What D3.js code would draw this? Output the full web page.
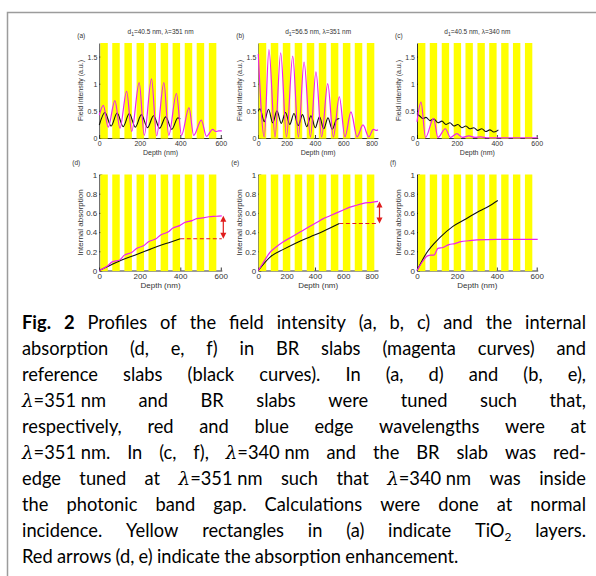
<!DOCTYPE html>
<html><head><meta charset="utf-8">
<script src="https://cdn.jsdelivr.net/npm/d3@7"></script>
<style>body{margin:0;background:#fff}svg{display:block}</style>
</head><body><svg id="c" width="596" height="576"></svg>
<script>
// ---------------- data ----------------
const xTicksShort = [0, 200, 400, 600];
const xTicksLong = [0, 200, 400, 600, 800];
const yTicksField = [0, 0.5, 1, 1.5];
const yTicksAbs = [0, 0.2, 0.4, 0.6, 0.8, 1];

// TiO2 layer start depths (nm) and widths
const layersThin = [5, 64, 124, 184, 243, 303, 362, 422, 481, 541];
const layerWidthThin = 37;
const layersThick = [3, 88, 173, 257, 342, 427, 512, 597, 681, 766];
const layerWidthThick = 53;

// field intensity (a): [depth nm, value]
const fieldA_BR = [[0,0.42],[20,0.6],[44,0.2],[77,0.69],[102,0.18],[135,0.86],[160,0.12],[197,1.02],[222,0.05],[258,1.09],[283,0.04],[319,1.02],[343,0.05],[381,0.82],[406,0.05],[443,0.56],[466,0.05],[504,0.33],[529,0.03],[560,0.16],[575,0.12],[590,0.13],[605,0.13]];
const fieldA_ref = [[0,0.24],[28,0.47],[58,0.22],[88,0.46],[118,0.21],[148,0.45],[178,0.2],[208,0.43],[238,0.19],[268,0.41],[298,0.18],[328,0.39],[358,0.16],[388,0.37],[400,0.35]];
// field intensity (b)
const fieldB_BR = [[0,1.55],[42,0.02],[75,1.63],[118,0.02],[158,1.57],[199,0.02],[243,1.51],[283,0.02],[323,1.4],[368,0.02],[407,1.22],[447,0.02],[490,1.0],[530,0.02],[572,0.76],[612,0.02],[654,0.48],[697,0.02],[739,0.24],[780,0.02],[812,0.16],[830,0.14],[845,0.15]];
const fieldB_ref = [[0,0.5],[12,0.54],[42,0.3],[72,0.53],[102,0.28],[132,0.5],[162,0.27],[192,0.47],[222,0.25],[252,0.45],[282,0.23],[312,0.43],[342,0.21],[372,0.41],[402,0.19],[432,0.39],[462,0.17],[492,0.37],[522,0.16],[552,0.34],[572,0.36]];
// field intensity (c)
const fieldC_BR = [[0,0.3],[20,0.66],[43,0.01],[83,0.36],[105,0.01],[142,0.17],[168,0.01],[200,0.08],[228,0.01],[260,0.04],[290,0.01],[320,0.02],[350,0.005],[605,0.005]];
const fieldC_ref = [[0,0.45],[15,0.4],[30,0.36],[45,0.38],[65,0.32],[85,0.35],[105,0.28],[125,0.31],[145,0.25],[165,0.28],[185,0.22],[205,0.25],[225,0.19],[245,0.22],[265,0.17],[285,0.19],[305,0.14],[325,0.17],[345,0.12],[365,0.15],[385,0.11],[400,0.13],[408,0.15]];
// internal absorption (d)
const absD_BR = [[0,0],[42,0.05],[64,0.09],[101,0.11],[124,0.16],[161,0.19],[184,0.23],[220,0.26],[243,0.3],[280,0.33],[303,0.37],[339,0.4],[362,0.44],[399,0.47],[422,0.5],[458,0.52],[481,0.54],[518,0.55],[541,0.56],[578,0.565],[605,0.57]];
const absD_ref = [[0,0],[50,0.05],[100,0.1],[150,0.14],[200,0.18],[250,0.22],[300,0.26],[350,0.295],[400,0.33]];
// internal absorption (e)
const absE_BR = [[0,0],[30,0.07],[83,0.19],[130,0.25],[177,0.3],[224,0.34],[271,0.38],[318,0.42],[365,0.46],[412,0.5],[459,0.54],[506,0.57],[553,0.6],[600,0.63],[647,0.66],[694,0.68],[741,0.7],[800,0.71],[845,0.72]];
const absE_ref = [[0,0],[83,0.14],[177,0.22],[271,0.29],[365,0.35],[459,0.41],[572,0.49]];
// internal absorption (f)
const absF_BR = [[0,0],[30,0.1],[50,0.15],[70,0.16],[85,0.16],[105,0.23],[130,0.24],[160,0.27],[190,0.28],[220,0.3],[260,0.31],[300,0.32],[400,0.325],[605,0.325]];
const absF_ref = [[0,0],[47,0.18],[113,0.34],[180,0.46],[247,0.54],[313,0.62],[360,0.67],[405,0.73]];

const titles = [["40.5","351"],["56.5","351"],["40.5","340"]];
const panelLabels = ["(a)","(b)","(c)","(d)","(e)","(f)"];

const captionLines = [
 "Fig. 2 Profiles of the field intensity (a, b, c) and the internal",
 "absorption (d, e, f) in BR slabs (magenta curves) and",
 "reference slabs (black curves). In (a, d) and (b, e),",
 "λ=351\u00a0nm and BR slabs were tuned such that,",
 "respectively, red and blue edge wavelengths were at",
 "λ=351\u00a0nm. In (c, f), λ=340\u00a0nm and the BR slab was red-",
 "edge tuned at λ=351\u00a0nm such that λ=340\u00a0nm was inside",
 "the photonic band gap. Calculations were done at normal",
 "incidence. Yellow rectangles in (a) indicate TiO2 layers.",
 "Red arrows (d, e) indicate the absorption enhancement."
];

// ---------------- drawing ----------------
const svg = d3.select('#c');
svg.append('rect').attr('width',596).attr('height',576).attr('fill','#fff');
svg.append('path').attr('d','M7.5,576V12.5H596').attr('fill','none').attr('stroke','#9c9c9c').attr('stroke-width',1.5);

const MAG = '#ee22ee', BLK = '#111', YEL = '#ffff00', RED = '#e01c1c';
const FONT = '"Liberation Sans", Arial, sans-serif';

const cols = [{x0:99.3,x1:221.8},{x0:258.3,x1:378},{x0:417,x1:537.7}];
const rows = [{y0:138,y1:43,fs:7,lfs:7},{y0:270.5,y1:174.5,fs:8,lfs:8}];

const panels = [
 {c:0,r:0,xMax:605,yMax:1.75,xt:xTicksShort,yt:yTicksField,layers:layersThin,lw:layerWidthThin,br:fieldA_BR,ref:fieldA_ref},
 {c:1,r:0,xMax:845,yMax:1.75,xt:xTicksLong,yt:yTicksField,layers:layersThick,lw:layerWidthThick,br:fieldB_BR,ref:fieldB_ref},
 {c:2,r:0,xMax:605,yMax:1.75,xt:xTicksShort,yt:yTicksField,layers:layersThin,lw:layerWidthThin,br:fieldC_BR,ref:fieldC_ref},
 {c:0,r:1,xMax:605,yMax:1,xt:xTicksShort,yt:yTicksAbs,layers:layersThin,lw:layerWidthThin,br:absD_BR,ref:absD_ref,arrow:true},
 {c:1,r:1,xMax:845,yMax:1,xt:xTicksLong,yt:yTicksAbs,layers:layersThick,lw:layerWidthThick,br:absE_BR,ref:absE_ref,arrow:true},
 {c:2,r:1,xMax:605,yMax:1,xt:xTicksShort,yt:yTicksAbs,layers:layersThin,lw:layerWidthThin,br:absF_BR,ref:absF_ref},
];

panels.forEach((p,i)=>{
  const col = cols[p.c], row = rows[p.r];
  const x = d3.scaleLinear().domain([0,p.xMax]).range([col.x0,col.x1]);
  const y = d3.scaleLinear().domain([0,p.yMax]).range([row.y0,row.y1]);
  const g = svg.append('g');

  const ax = g.append('g').attr('transform',`translate(0,${row.y0})`)
    .call(d3.axisBottom(x).tickValues(p.xt).tickSizeInner(-3).tickSizeOuter(0).tickPadding(3).tickFormat(d3.format('~g')));
  const ay = g.append('g').attr('transform',`translate(${col.x0},0)`)
    .call(d3.axisLeft(y).tickValues(p.yt).tickSizeInner(-3).tickSizeOuter(0).tickPadding(2).tickFormat(d3.format('~g')));
  [ax,ay].forEach(a=>{
    a.attr('font-family',FONT).attr('font-size',row.fs);
    a.selectAll('path,line').attr('stroke','#000').attr('stroke-width',0.8);
    a.selectAll('text').attr('fill','#333');
  });
  ay.selectAll('text').attr('dy','0.35em');

  g.append('g').selectAll('rect').data(p.layers).join('rect')
    .attr('x',d=>x(d)).attr('width',d=>x(d+p.lw)-x(d))
    .attr('y',row.y1).attr('height',row.y0-row.y1+0.6).attr('fill',YEL);

  const line = d3.line().x(d=>x(d[0])).y(d=>y(d[1])).curve(d3.curveMonotoneX);

  if(p.arrow){
    const last = p.ref[p.ref.length-1];
    g.append('line').attr('x1',x(last[0])).attr('x2',x(p.xMax)).attr('y1',y(last[1])).attr('y2',y(last[1]))
      .attr('stroke',RED).attr('stroke-width',1.1).attr('stroke-dasharray','4,2.5');
  }
  g.append('path').attr('d',line(p.ref)).attr('fill','none').attr('stroke',BLK).attr('stroke-width',1.1);
  g.append('path').attr('d',line(p.br)).attr('fill','none').attr('stroke',MAG).attr('stroke-width',1.2);

  if(p.arrow){
    const lo = y(p.ref[p.ref.length-1][1]), hi = y(p.br[p.br.length-1][1]);
    const ax0 = x(p.xMax)+1.5;
    g.append('line').attr('x1',ax0).attr('x2',ax0).attr('y1',hi+5).attr('y2',lo-5).attr('stroke',RED).attr('stroke-width',1.2);
    g.append('path').attr('d',`M${ax0},${hi}L${ax0-3},${hi+6}L${ax0+3},${hi+6}Z`).attr('fill',RED);
    g.append('path').attr('d',`M${ax0},${lo}L${ax0-3},${lo-6}L${ax0+3},${lo-6}Z`).attr('fill',RED);
  }

  const midX = (col.x0+col.x1)/2, midY = (row.y0+row.y1)/2;
  g.append('text').attr('x',midX).attr('y',row.y0+17).attr('text-anchor','middle')
    .attr('font-family',FONT).attr('font-size',row.lfs).attr('fill','#333').text('Depth (nm)');
  g.append('text').attr('transform',`translate(${col.x0-16},${midY}) rotate(-90)`).attr('text-anchor','middle')
    .attr('font-family',FONT).attr('font-size',row.lfs).attr('fill','#333')
    .text(p.r===0 ? 'Field intensity (a.u.)' : 'Internal absorption');
  g.append('text').attr('x',col.x0-(p.r===0?22:27)).attr('y',p.r===0?37.5:165)
    .attr('font-family',FONT).attr('font-size',6.5).attr('fill','#333').text(panelLabels[i]);
  if(p.r===0){
    const t = g.append('text').attr('x',midX).attr('y',row.y1-9).attr('text-anchor','middle')
      .attr('font-family',FONT).attr('font-size',6.5).attr('fill','#333');
    const tt = titles[p.c];
    t.append('tspan').text('d');
    t.append('tspan').attr('dy',2).attr('font-size',5).text('1');
    t.append('tspan').attr('dy',-2).text(`=${tt[0]} nm, λ=${tt[1]} nm`);
  }
});

// ---------------- caption ----------------
const cap = svg.append('g').attr('font-family','Lato, "Open Sans", sans-serif');
const L = 22, R = 586, lastEnd = 462;
const probe = cap.append('text').attr('font-size',20).text(captionLines[captionLines.length-1]);
const fs = 20*(lastEnd-L)/probe.node().getComputedTextLength();
probe.remove();

function addWord(parent, w, bold){
  const t = parent.append('text').attr('font-size',fs).attr('fill','#000');
  if(bold) t.attr('font-weight','bold');
  w.split(/(λ|TiO2)/).filter(s=>s.length).forEach(s=>{
    if(s==='λ') t.append('tspan').attr('font-family','"DejaVu Serif", serif').attr('font-style','italic').text('λ');
    else if(s==='TiO2'){ t.append('tspan').text('TiO'); t.append('tspan').attr('font-size',fs*0.65).attr('dy',fs*0.22).text('2'); }
    else t.append('tspan').text(s);
  });
  return t;
}
captionLines.forEach((ln,i)=>{
  const yb = 329 + 26*i;
  const words = ln.split(' ');
  const nodes = words.map((w,j)=>addWord(cap,w,i===0 && j<2));
  const widths = nodes.map(n=>n.node().getComputedTextLength());
  const total = d3.sum(widths);
  const last = i===captionLines.length-1;
  const gap = last ? fs*0.23 : (R-L-total)/(words.length-1);
  let cx = L;
  nodes.forEach((n,j)=>{ n.attr('x',cx).attr('y',yb); cx += widths[j]+gap; });
});
</script></body></html>
